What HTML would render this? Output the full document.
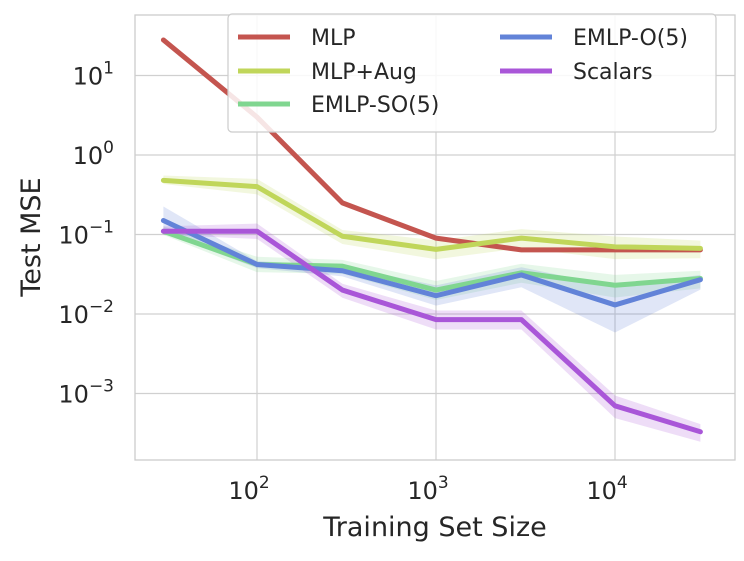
<!DOCTYPE html>
<html><head><meta charset="utf-8"><style>
body{margin:0;background:#fff;}
svg text{font-family:"DejaVu Sans","Liberation Sans",sans-serif;fill:#262626;}
</style></head><body>
<svg id="chart" width="744" height="556" xmlns="http://www.w3.org/2000/svg">
<g id="grid"></g>
<g id="bands"></g>
<g id="lines"></g>
<rect x="135" y="15" width="600" height="445" fill="none" stroke="#cccccc" stroke-width="1.3"/>
<g id="ticks"></g>
<text x="435" y="536" font-size="27" text-anchor="middle">Training Set Size</text>
<text transform="translate(40,237) rotate(-90)" font-size="27" text-anchor="middle">Test MSE</text>
<g id="legend"></g>
</svg>
<script>
const sizes=[30,100,300,1000,3000,10000,30000];
const seriesNames=["MLP","MLP+Aug","EMLP-SO(5)","EMLP-O(5)","Scalars"];
const colors=["#c4554f","#c0d65a","#80d690","#6283d8","#a956d8"];
const mlp=[28,3.0,0.25,0.09,0.064,0.064,0.064];
const mlpAug=[0.48,0.40,0.095,0.065,0.09,0.07,0.067];
const emlpSO=[0.11,0.042,0.04,0.02,0.033,0.023,0.028];
const emlpO=[0.15,0.042,0.035,0.017,0.031,0.013,0.027];
const scalars=[0.11,0.11,0.02,0.0085,0.0085,0.0007,0.00033];
const bandLo=[0.9,0.8,0.8,0.75,0.75,0.7,0.75];
const bandHi=[1.15,1.25,1.2,1.3,1.3,1.35,1.25];
const mBandLo=[0.95,0.95,0.95,0.95,0.95,0.95,0.95];
const mBandHi=[1.05,1.05,1.05,1.05,1.05,1.05,1.05];
const oBandLo=[0.7,0.9,0.85,0.75,0.7,0.45,0.75];
const oBandHi=[1.5,1.1,1.15,1.35,1.25,1.7,1.15];
const xTicks=[2,3,4];
const yTicks=[1,0,-1,-2,-3];
const ns="http://www.w3.org/2000/svg";
function X(v){return 436+179*(Math.log10(v)-3);}
function Y(v){return 155-79.5*Math.log10(v);}
function mk(t,a,p){const e=document.createElementNS(ns,t);for(const k in a)e.setAttribute(k,a[k]);p.appendChild(e);return e;}
const grid=document.getElementById('grid'),ticks=document.getElementById('ticks');
xTicks.forEach(p=>{const x=X(Math.pow(10,p));
 const l=mk('line',{x1:x,x2:x,y1:15,y2:460,stroke:'#d0d0d0','stroke-width':1.2},grid);
 
 const t=mk('text',{x:x-8,y:499,'font-size':24,'text-anchor':'middle'},ticks);
 
 t.innerHTML='10<tspan dy="-11" font-size="17">'+p+'</tspan>';});
yTicks.forEach(p=>{const y=Y(Math.pow(10,p));
 const l=mk('line',{x1:135,x2:735,y1:y,y2:y,stroke:'#d0d0d0','stroke-width':1.2},grid);
 
 const t=mk('text',{x:114,y:y+9,'font-size':24,'text-anchor':'end'},ticks);
 
 t.innerHTML='10<tspan dy="-11" font-size="17">'+(p<0?'\u2212'+(-p):p)+'</tspan>';});
const data=[mlp,mlpAug,emlpSO,emlpO,scalars];
const bands=document.getElementById('bands'),lines=document.getElementById('lines');
data.forEach((d,i)=>{
 const lo=i==3?oBandLo:(i==0?mBandLo:bandLo),hi=i==3?oBandHi:(i==0?mBandHi:bandHi);
 let up=d.map((v,j)=>X(sizes[j])+','+Y(v*hi[j]));
 let dn=d.map((v,j)=>X(sizes[j])+','+Y(v*lo[j])).reverse();
 const b=mk('polygon',{points:up.concat(dn).join(' '),fill:colors[i],'fill-opacity':0.2,stroke:'none'},bands);
 
 
 const l=mk('polyline',{points:d.map((v,j)=>X(sizes[j])+','+Y(v)).join(' '),fill:'none',stroke:colors[i],'stroke-width':5,'stroke-linejoin':'round','stroke-linecap':'round'},lines);
 
 
});
const lg=document.getElementById('legend');
const box=mk('rect',{x:228,y:14,width:488,height:118,rx:4,fill:'#fff','fill-opacity':0.85,stroke:'#cccccc','stroke-width':1.2},lg);

const pos=[[238,37],[238,71],[238,104],[500,37],[500,71]];
seriesNames.forEach((n,i)=>{const [x,y]=pos[i];
 const g=mk('g',{},lg);
 
 mk('line',{x1:x,x2:x+52,y1:y,y2:y,stroke:colors[i],'stroke-width':5},g);
 const t=mk('text',{x:x+73,y:y+8,'font-size':22},g);t.textContent=n;});
</script>
</body></html>
